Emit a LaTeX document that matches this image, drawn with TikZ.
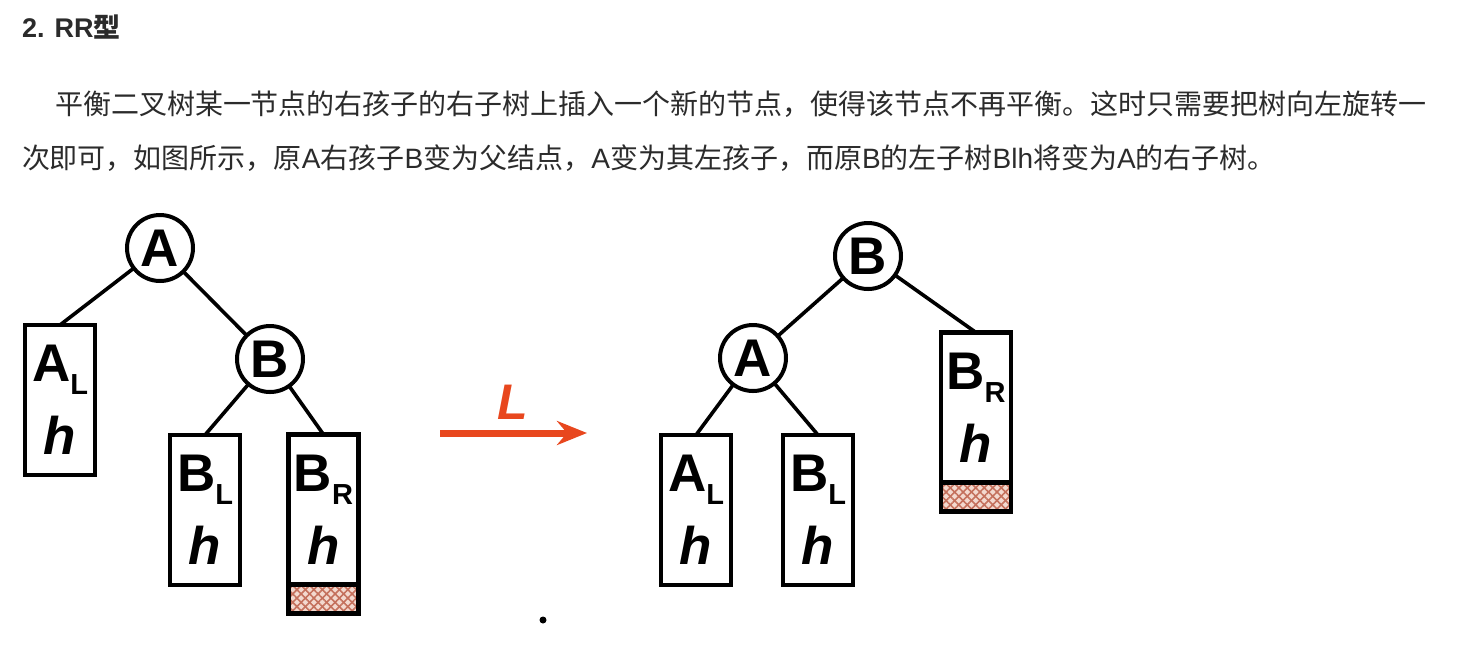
\documentclass[tikz,border=0pt]{standalone}
\usepackage{fontspec}
\setmainfont{Liberation Sans}
\newfontfamily\cjk{Noto Sans CJK SC}
\usetikzlibrary{arrows.meta,positioning,patterns.meta}

\definecolor{txtgray}{HTML}{2B2B2B}
\definecolor{rotred}{HTML}{E8471E}
\definecolor{hatchbg}{HTML}{F3D9CF}
\definecolor{hatchline}{HTML}{C4705C}

\newcommand{\zh}[1]{{\cjk #1}}
\newcommand{\lowsub}[1]{\raisebox{-6.5pt}{\fontsize{14.5pt}{14.5pt}\selectfont #1}}

\begin{document}
\begin{tikzpicture}[
  x=0.5pt, y=-0.5pt,
  every node/.style={inner sep=0pt,outer sep=0pt},
  big/.style={font=\fontsize{26.5pt}{36.5pt}\selectfont\bfseries},
  circ/.style={big,circle,draw,line width=2pt,minimum size=33pt},
  box/.style={big,rectangle,draw,line width=2.2pt,minimum width=35pt,minimum height=75pt,align=center},
  hatchbox/.style={rectangle,draw,line width=2.2pt,minimum width=35pt,minimum height=14.5pt,
    preaction={fill=hatchbg},
    preaction={pattern={Lines[angle=45,distance=3pt,line width=0.8pt]},pattern color=hatchline},
    preaction={pattern={Lines[angle=-45,distance=3pt,line width=0.8pt]},pattern color=hatchline}},
  link/.style={draw=black,line width=1.8pt},
  rotarrow/.style={draw=rotred,line width=3.5pt,-{Stealth[length=15pt,width=12pt,inset=5pt]}},
  txt/.style={anchor=base west,text=txtgray,font=\fontsize{14pt}{14pt}\selectfont}
]
\useasboundingbox (0,0) rectangle (1464,666);

\node[txt,font=\fontsize{13.5pt}{13.5pt}\selectfont\bfseries] (title) at (22,37) {2. RR\zh{型}};
\node[txt] (para1) at (55,114.6) {\zh{平衡二叉树某一节点的右孩子的右子树上插入一个新的节点，使得该节点不再平衡。这时只需要把树向左旋转一}};
\node[txt] (para2) at (22,168.6) {\zh{次即可，如图所示，原}A\zh{右孩子}B\zh{变为父结点，}A\zh{变为其左孩子，而原}B\zh{的左子树}Blh\zh{将变为}A\zh{的右子树。}};

% before rotation
\node[circ] (A1) at (160,248) {A};
\node[circ] (B1) at (270,359) {B};
\node[box] (AL1) at (60,400) {A\lowsub{L}\\\textit{h}};
\node[box] (BL1) at (205,510) {B\lowsub{L}\\\textit{h}};
\node[box] (BR1) at (323.5,509.5) {B\lowsub{R}\\\textit{h}};
\node[hatchbox,below=0pt of BR1] (BR1h) {};

% after rotation
\node[circ] (B2) at (868,256) {B};
\node[circ] (A2) at (753,358) {A};
\node[box] (AL2) at (696,510) {A\lowsub{L}\\\textit{h}};
\node[box] (BL2) at (818,510) {B\lowsub{L}\\\textit{h}};
\node[box] (BR2) at (976,407.5) {B\lowsub{R}\\\textit{h}};
\node[hatchbox,below=0pt of BR2] (BR2h) {};

\coordinate (rotS) at (440,433);
\coordinate (rotE) at (587,433);
\draw[rotarrow] (rotS) -- (rotE);
\node[text=rotred,font=\fontsize{25pt}{25pt}\selectfont\bfseries\itshape] (rotL) at (513,402) {L};

\draw[link] (A1) -- (AL1.north);
\draw[link] (A1) -- (B1);
\draw[link] (B1) -- (BL1.north);
\draw[link] (B1) -- (BR1.north);

\draw[link] (B2) -- (A2);
\draw[link] (B2) -- (BR2.north);
\draw[link] (A2) -- (AL2.north);
\draw[link] (A2) -- (BL2.north);

\fill[black] (543,620) circle[radius=3.5];
\end{tikzpicture}
\end{document}
